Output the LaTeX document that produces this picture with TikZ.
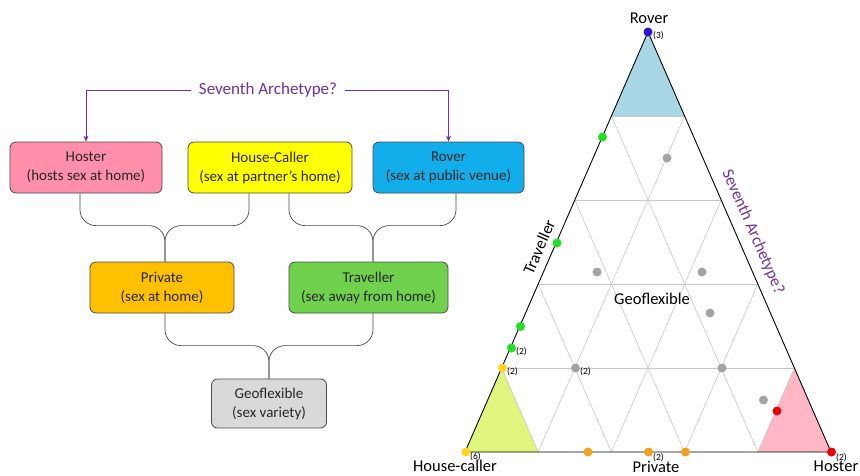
\documentclass[tikz,border=0pt]{standalone}
\usepackage{fontspec}
\setmainfont{Carlito}
\usetikzlibrary{arrows.meta,calc}
\definecolor{purp}{HTML}{7030A0}
\definecolor{boxline}{HTML}{4A4A4A}
\definecolor{txt}{HTML}{262626}
\definecolor{cHoster}{HTML}{FF8FAA}
\definecolor{cHouse}{HTML}{FFFF00}
\definecolor{cRover}{HTML}{12AEEB}
\definecolor{cPrivate}{HTML}{FFC000}
\definecolor{cTravel}{HTML}{70D24C}
\definecolor{cGeo}{HTML}{D9D9D9}
\definecolor{fBlue}{HTML}{A8D8E6}
\definecolor{fPink}{HTML}{FFB7C6}
\definecolor{fYel}{HTML}{DFF57C}
\definecolor{dBlue}{HTML}{3010E0}
\definecolor{dGreen}{HTML}{22E022}
\definecolor{dYel}{HTML}{FFD320}
\definecolor{dOra}{HTML}{F5A01A}
\definecolor{dRed}{HTML}{E8000B}
\definecolor{dGray}{HTML}{A3A3A3}
\definecolor{grid}{HTML}{C8C8C8}
\tikzset{
  archbox/.style={draw=boxline, line width=0.8pt, rounded corners=6pt, align=center,
    minimum height=51pt, inner sep=2pt, text=txt, font=\fontsize{15}{19}\selectfont},
  brace/.style={draw=boxline, line width=0.7pt, rounded corners=16pt},
  purpline/.style={draw=purp, line width=0.8pt, -{Stealth[length=6pt,width=5pt]}},
  dot/.style={circle, inner sep=0pt, minimum size=9pt},
  cnt/.style={font=\fontsize{9.5}{10}\selectfont, inner sep=0pt, anchor=west},
  tlabel/.style={font=\fontsize{16.5}{18}\selectfont, text=black},
}
\begin{document}
\begin{tikzpicture}[x=1pt,y=-1pt]
\useasboundingbox (0,0) rectangle (860,475);
% ---------- flowchart ----------
\node[archbox, fill=cHoster, minimum width=152pt] (hoster) at (86,167.5) {Hoster\\(hosts sex at home)};
\node[archbox, fill=cHouse, minimum width=164pt] (house) at (270,167.5) {House-Caller\\(sex at partner’s home)};
\node[archbox, fill=cRover, minimum width=151pt] (rover) at (448.5,167.5) {Rover\\(sex at public venue)};
\node[archbox, fill=cPrivate, minimum width=144pt] (private) at (162,287.5) {Private\\(sex at home)};
\node[archbox, fill=cTravel, minimum width=159pt] (travel) at (368.5,287.5) {Traveller\\(sex away from home)};
\node[archbox, fill=cGeo, minimum width=115pt, minimum height=49pt] (geo) at (269,403.5) {Geoflexible\\(sex variety)};
\node[text=purp, font=\fontsize{17}{19}\selectfont, inner xsep=8pt] (sev) at (268,90) {Seventh Archetype?};
\draw[purpline] (sev.west) -| (hoster.north);
\draw[purpline] (sev.east) -| (rover.north);
% braces
\draw[brace] ([xshift=-6pt]hoster.south) |- ($(private.north)+(3,-36)$) -- ([xshift=3pt]private.north);
\draw[brace] ([xshift=-21pt]house.south) |- ($(private.north)+(3,-36)$) -- ([xshift=3pt]private.north);
\draw[brace] ([xshift=19pt]house.south) |- ($(travel.north)+(4.5,-36)$) -- ([xshift=4.5pt]travel.north);
\draw[brace] ([xshift=7.5pt]rover.south) |- ($(travel.north)+(4.5,-36)$) -- ([xshift=4.5pt]travel.north);
\draw[brace] ([xshift=3pt]private.south) |- ($(geo.north)+(0,-33)$) -- (geo.north);
\draw[brace] ([xshift=4.5pt]travel.south) |- ($(geo.north)+(0,-33)$) -- (geo.north);
% ---------- ternary plot ----------
\coordinate (A) at (648,32);
\coordinate (L) at (465,452);
\coordinate (R) at (831,452);
\fill[fBlue] (A) -- ($(A)!0.2!(L)$) -- ($(A)!0.2!(R)$) -- cycle;
\fill[fYel] (L) -- ($(L)!0.2!(A)$) -- ($(L)!0.2!(R)$) -- cycle;
\fill[fPink] (R) -- ($(R)!0.2!(A)$) -- ($(R)!0.2!(L)$) -- cycle;
\foreach \f in {0.2,0.4,0.6,0.8}{
  \draw[grid, line width=0.6pt] ($(L)!\f!(A)$) -- ($(R)!\f!(A)$);
  \draw[grid, line width=0.6pt] ($(L)!\f!(R)$) -- ($(A)!\f!(R)$);
  \draw[grid, line width=0.6pt] ($(R)!\f!(L)$) -- ($(A)!\f!(L)$);
}
\draw[black, line width=0.9pt] (A) -- (L) -- (R) -- cycle;
% labels
\node[tlabel] (tRover) at (649,18) {Rover};
\node[tlabel] (tHouse) at (455,465.5) {House-caller};
\node[tlabel] (tPriv) at (656,466.5) {Private};
\node[tlabel] (tHost) at (836,466.5) {Hoster};
\node[tlabel] (tGeo) at (652,299) {Geoflexible};
\node[tlabel, rotate=66.46, inner sep=1pt] (tTrav) at (539,247) {Traveller};
\node[text=purp, font=\fontsize{16.5}{18}\selectfont, rotate=-66.46, inner sep=1pt] (tSev) at (753,232) {Seventh Archetype?};
% dots
\node[dot, fill=dBlue] (p1) at (648,32) {};
\node[dot, fill=dGreen] (p2) at (602.5,137) {};
\node[dot, fill=dGreen] (p3) at (557,243) {};
\node[dot, fill=dGreen] (p4) at (520.5,326.5) {};
\node[dot, fill=dGreen] (p5) at (511.5,348) {};
\node[dot, fill=dYel] (p6) at (502.5,368) {};
\node[dot, fill=dYel] (p7) at (466,452) {};
\node[dot, fill=dOra] (p8) at (588,452) {};
\node[dot, fill=dOra] (p9) at (648.5,452) {};
\node[dot, fill=dOra] (p10) at (685.5,452) {};
\node[dot, fill=dRed] (p11) at (831.5,452) {};
\node[dot, fill=dRed] (p12) at (777,411) {};
\node[dot, fill=dGray] (p13) at (667,158) {};
\node[dot, fill=dGray] (p14) at (597,272) {};
\node[dot, fill=dGray] (p15) at (702,272) {};
\node[dot, fill=dGray] (p16) at (710,313) {};
\node[dot, fill=dGray] (p17) at (575.5,368) {};
\node[dot, fill=dGray] (p18) at (722,368) {};
\node[dot, fill=dGray] (p19) at (763.5,400) {};
% counts
\node[cnt] (c1) at (653,36) {(3)};
\node[cnt] (c5) at (516,352) {(2)};
\node[cnt] (c6) at (507,372) {(2)};
\node[cnt] (c17) at (580,372) {(2)};
\node[cnt] (c7) at (470,457) {(6)};
\node[cnt] (c9) at (653,458) {(2)};
\node[cnt] (c11) at (836,458) {(2)};
\end{tikzpicture}
\end{document}
